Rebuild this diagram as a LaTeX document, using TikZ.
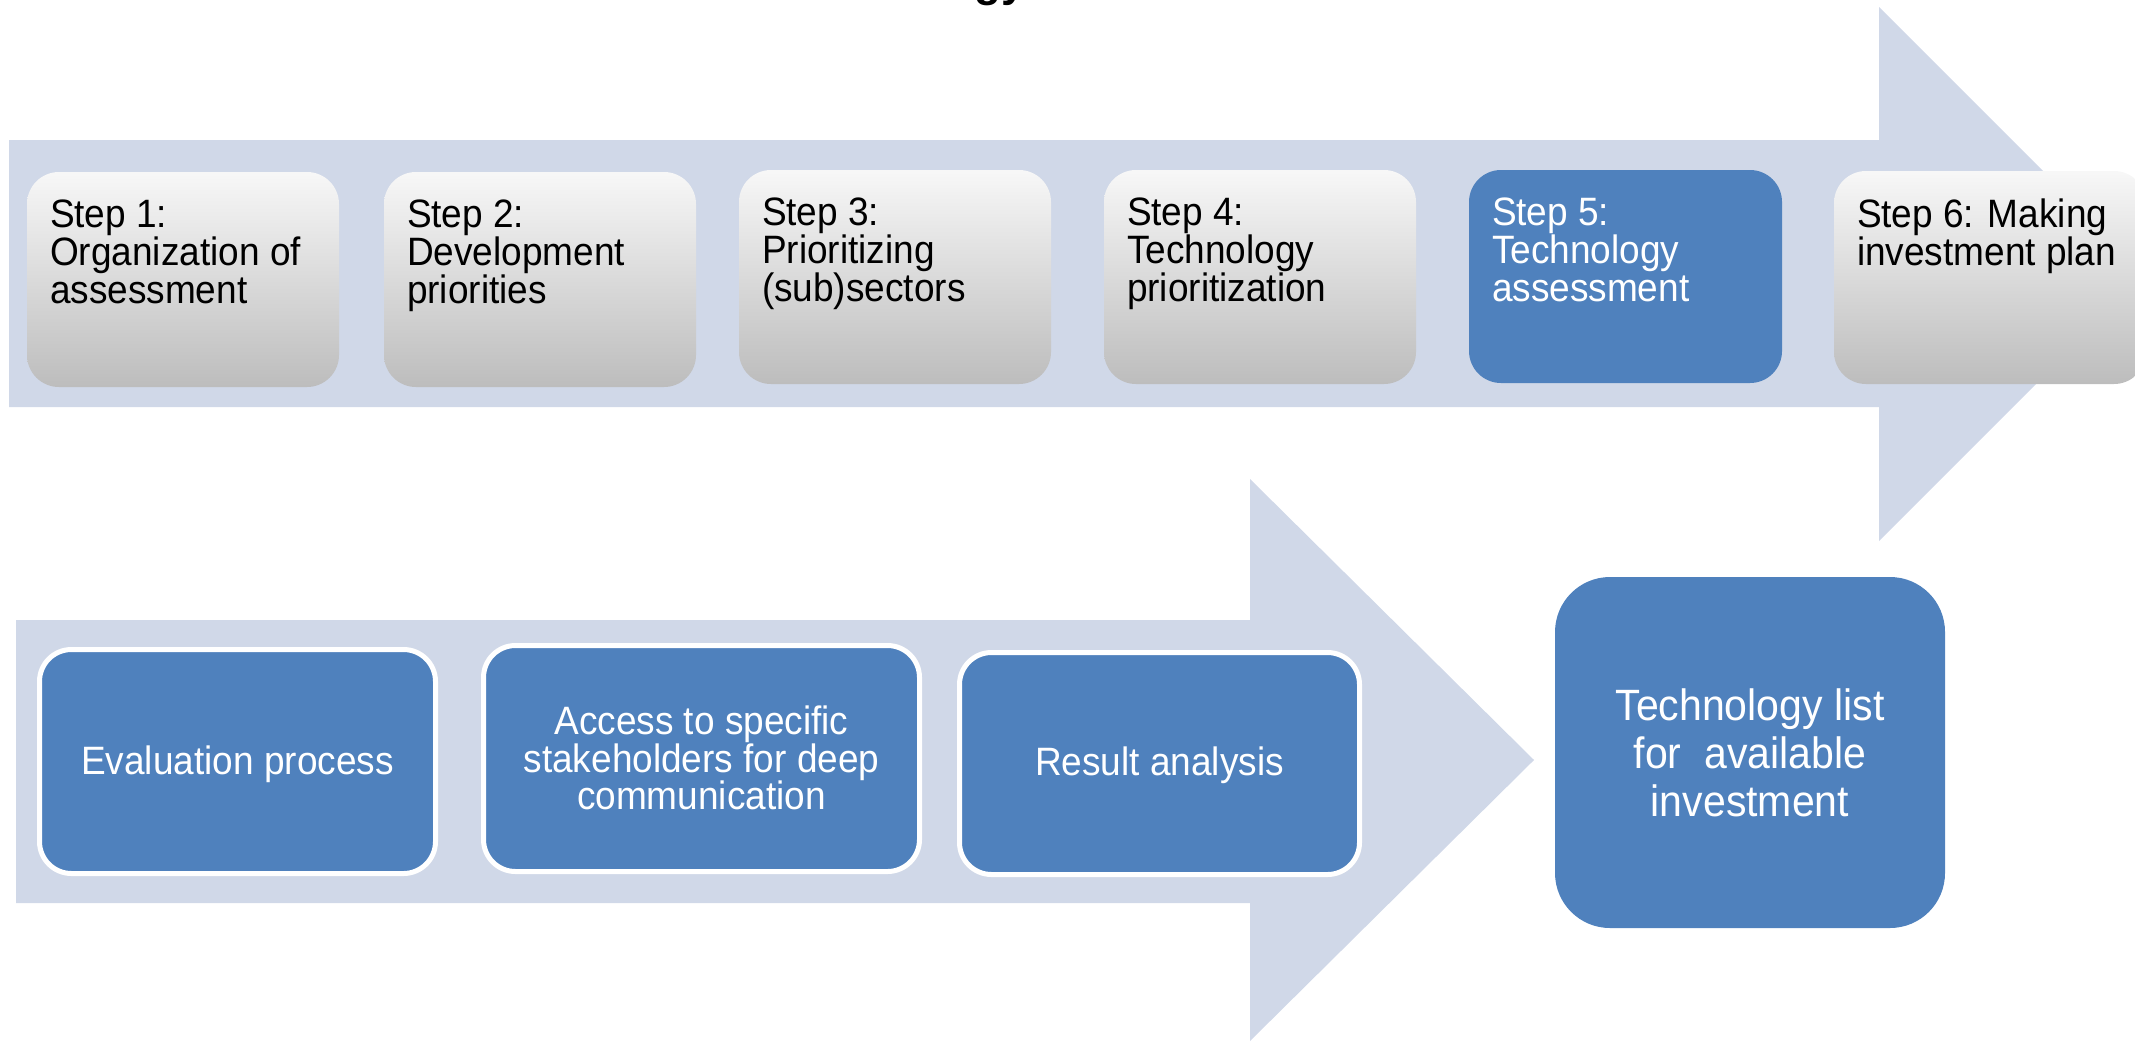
\documentclass[tikz,border=0pt]{standalone}
\usepackage{fontspec}
\usepackage{graphicx}
\setmainfont{Liberation Sans}
\definecolor{arrowfill}{HTML}{D0D8E8}
\definecolor{boxblue}{HTML}{4F81BD}
\newcommand\stxt[1]{\scalebox{1}[1.07]{\vbox{\halign{##\hfil\cr#1\crcr}}}}
\newcommand\ctxt[1]{\scalebox{1}[1.07]{\vbox{\halign{\hfil##\hfil\cr#1\crcr}}}}
\tikzset{
  x=1pt, y=-1pt,
  graybox/.style={rounded corners=32pt, top color=white!97!black, bottom color=white!74!black, draw=none, inner sep=0pt},
  bluebox/.style={rounded corners=32pt, fill=boxblue, draw=none, inner sep=0pt},
  lowbox/.style={rounded corners=32pt, fill=boxblue, draw=white, line width=5pt, inner sep=0pt},
  steptext/.style={anchor=north west, inner sep=0pt, font=\fontsize{37}{35.5}\selectfont},
  lowtext/.style={inner sep=0pt, text=white, font=\fontsize{37}{35}\selectfont},
}
\begin{document}
\begin{tikzpicture}
\useasboundingbox (0,0) rectangle (2135,1042);
\begin{scope}
\clip (0,0) rectangle (2135,1042);
% title fragment
\node[anchor=base, inner sep=0pt, font=\bfseries\fontsize{44}{44}\selectfont] (title) at (1000,-4) {gy};
% arrows
\fill[arrowfill] (9,140) -- (1879,140) -- (1879,7) -- (2146,274) -- (1879,541) -- (1879,407) -- (9,407) -- cycle;
\fill[arrowfill] (16,620) -- (1250,620) -- (1250,479) -- (1534,760) -- (1250,1041) -- (1250,903) -- (16,903) -- cycle;
% top step boxes
\node[graybox, minimum width=312pt, minimum height=215pt] (s1) at (183,279.5) {};
\node[graybox, minimum width=312pt, minimum height=215pt] (s2) at (540,279.5) {};
\node[graybox, minimum width=312pt, minimum height=214pt] (s3) at (895,277) {};
\node[graybox, minimum width=312pt, minimum height=214pt] (s4) at (1260,277) {};
\node[bluebox, minimum width=313pt, minimum height=213pt] (s5) at (1625.5,276.5) {};
\node[graybox, minimum width=312pt, minimum height=213pt] (s6) at (1990,277.5) {};
\node[steptext] (t1) at ([xshift=23pt,yshift=-27.5pt]s1.north west) {\stxt{Step 1:\cr Organization of\cr assessment}};
\node[steptext] (t2) at ([xshift=23pt,yshift=-27.5pt]s2.north west) {\stxt{Step 2:\cr Development\cr priorities}};
\node[steptext] (t3) at ([xshift=23pt,yshift=-27.5pt]s3.north west) {\stxt{Step 3:\cr Prioritizing\cr (sub)sectors}};
\node[steptext] (t4) at ([xshift=23pt,yshift=-27.5pt]s4.north west) {\stxt{Step 4:\cr Technology\cr prioritization}};
\node[steptext, text=white] (t5) at ([xshift=23pt,yshift=-27.5pt]s5.north west) {\stxt{Step 5:\cr Technology\cr assessment}};
\node[steptext] (t6) at ([xshift=23pt,yshift=-27.5pt]s6.north west) {\stxt{Step 6: Making\cr investment plan}};
% lower boxes
\node[lowbox, minimum width=396pt, minimum height=224pt] (b1) at (237.5,761.5) {};
\node[lowbox, minimum width=436pt, minimum height=226pt] (b2) at (701.5,758.5) {};
\node[lowbox, minimum width=400pt, minimum height=222pt] (b3) at (1159.5,763.5) {};
\node[rounded corners=55pt, fill=boxblue, inner sep=0pt, minimum width=390pt, minimum height=351pt] (out) at (1750,752.5) {};
\node[lowtext] (l1) at ([yshift=-2.6pt]b1.center) {\ctxt{Evaluation process}};
\node[lowtext] (l2) at ([yshift=0.5pt]b2.center) {\ctxt{Access to specific\cr stakeholders for deep\cr communication}};
\node[lowtext] (l3) at ([yshift=-1.9pt]b3.center) {\ctxt{Result analysis}};
\node[lowtext, font=\fontsize{41}{45}\selectfont] (l4) at ([yshift=-0.5pt]out.center) {\ctxt{Technology list\cr for~ available\cr investment}};
\end{scope}
\end{tikzpicture}
\end{document}
